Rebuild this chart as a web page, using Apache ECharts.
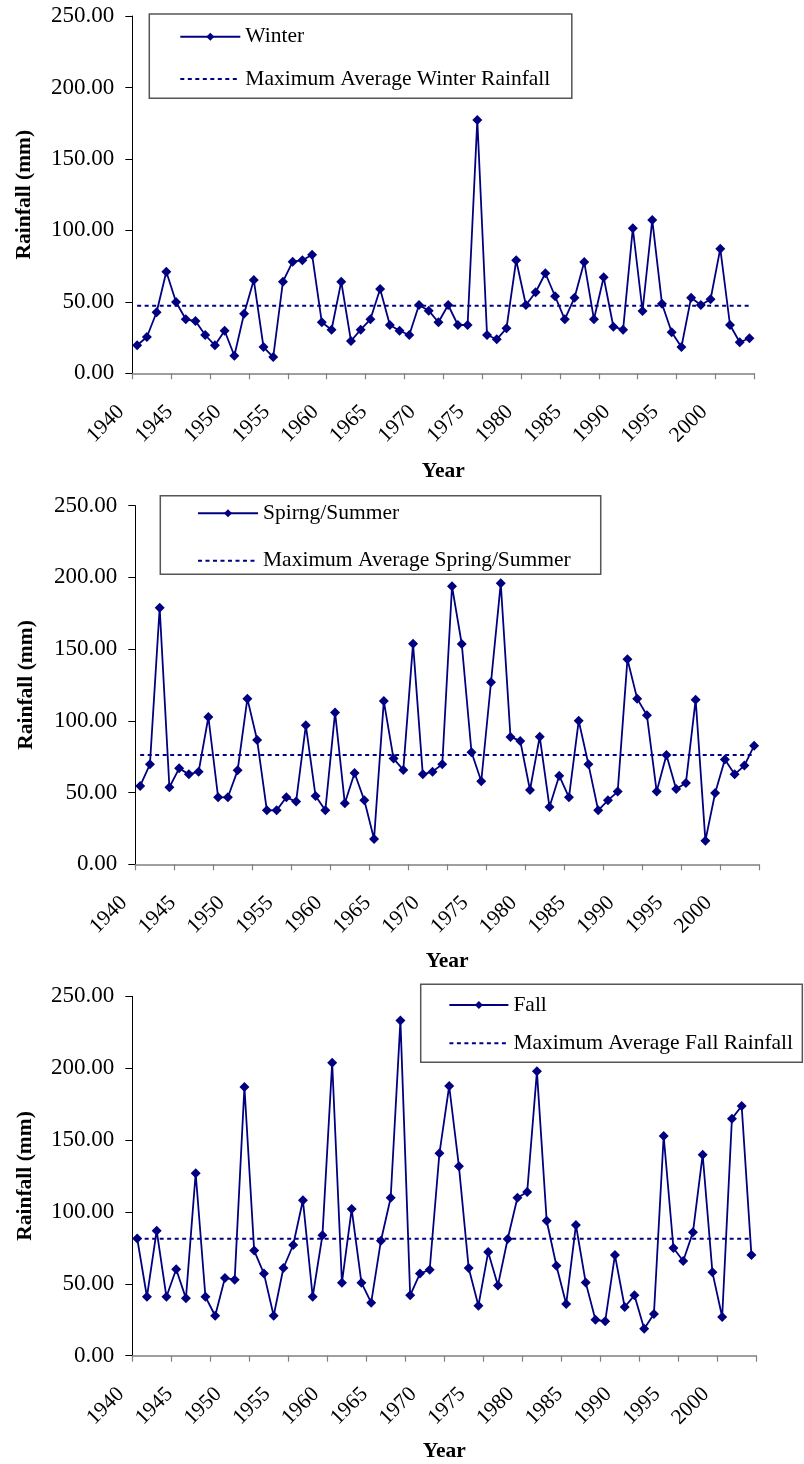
<!DOCTYPE html>
<html>
<head>
<meta charset="utf-8">
<title>Seasonal Rainfall 1940-2003</title>
<script src="https://cdn.jsdelivr.net/npm/echarts@6/dist/echarts.min.js"></script>
<style>
  html, body { margin: 0; padding: 0; background: #ffffff; }
  #chart { width: 804px; height: 1464px; }
</style>
</head>
<body>
<div id="chart"></div>
<script>
// Years on the category axis (one category per year)
const years = [];
for (let y = 1940; y <= 2003; y++) years.push(String(y));

// Seasonal rainfall totals (mm)
const winter = [19.6, 25.4, 42.7, 71.1, 49.9, 37.8, 36.6, 26.8, 19.6, 29.8, 12.3, 41.7, 65.3, 18.4, 11.4, 64.1,
  78.1, 79.1, 83.0, 35.7, 30.5, 64.1, 22.6, 30.5, 37.8, 59.0, 33.8, 29.8, 26.8, 47.8, 43.8, 35.7,
  47.8, 33.8, 33.8, 177.2, 26.8, 23.8, 31.5, 79.1, 47.8, 56.7, 70.0, 53.9, 37.8, 52.9, 77.9, 37.8,
  67.2, 32.6, 30.5, 101.5, 43.6, 107.3, 48.7, 28.7, 18.4, 52.9, 47.8, 51.8, 87.2, 33.8, 21.7, 24.5];

const springSummer = [54.6, 69.7, 178.9, 53.7, 66.9, 62.7, 64.6, 102.7, 46.7, 46.7, 65.5, 115.5, 86.7, 37.6, 37.6, 46.7,
  43.7, 96.9, 47.6, 37.6, 105.9, 42.5, 63.7, 44.6, 17.7, 113.8, 73.7, 65.8, 153.8, 62.7, 64.6, 69.7,
  193.8, 153.6, 78.1, 57.9, 126.9, 195.9, 88.8, 86.0, 51.8, 89.0, 40.0, 61.8, 46.7, 100.1, 69.7, 37.6,
  44.6, 50.7, 142.9, 115.5, 103.9, 50.7, 76.2, 52.5, 56.7, 114.8, 16.5, 49.7, 73.0, 62.7, 68.8, 82.7];

const fall = [81.6, 41.0, 87.0, 41.0, 60.1, 39.9, 126.9, 41.0, 27.8, 54.0, 52.9, 186.9, 73.1, 57.1, 27.8, 61.0,
  77.0, 108.1, 41.0, 83.7, 203.8, 50.8, 102.0, 50.8, 36.9, 80.0, 109.9, 233.1, 42.0, 57.1, 59.8, 140.8,
  187.6, 131.7, 61.0, 34.8, 72.1, 48.9, 81.2, 109.9, 113.9, 197.8, 93.9, 62.6, 35.9, 90.9, 51.0, 25.0,
  23.9, 70.0, 33.9, 42.0, 18.8, 29.0, 152.8, 74.9, 65.9, 85.8, 139.8, 58.0, 26.9, 164.9, 173.7, 70.0];

// Maximum average rainfall for each season (mm)
const maxAvgWinter = 47.3;
const maxAvgSpringSummer = 76.2;
const maxAvgFall = 81.4;

// Series and legend names
const seriesNames = ['Winter', 'Spirng/Summer', 'Fall'];
const avgNames = ['Maximum Average Winter Rainfall', 'Maximum Average Spring/Summer', 'Maximum Average Fall Rainfall'];

// Value axis
const yMin = 0, yMax = 250, yStep = 50;

const NAVY = '#000080';
const SERIF = '"Liberation Serif", "Times New Roman", serif';

// Panel geometry (pixels)
const panels = [
  { grid: { left: 132.3, top: 16, width: 622, height: 357.3 }, yGap: 97, xGap: 86.7,
    legend: { left: 149.3, top: 14, padding: [11.7, 21.5, 8.3, 30], itemGap: 20.3, itemWidth: 60 } },
  { grid: { left: 135.3, top: 505.7, width: 623.7, height: 358.6 }, yGap: 97.5, xGap: 86,
    legend: { left: 160.3, top: 495.7, padding: [6.6, 30, 2.6, 36.7], itemGap: 25.4, itemWidth: 60 } },
  { grid: { left: 132.3, top: 996.3, width: 624, height: 359.4 }, yGap: 96.3, xGap: 84.3,
    legend: { left: 420.7, top: 984.3, padding: [9.7, 9.3, 8, 27.7], itemGap: 16.3, itemWidth: 59 } }
];

const seasonData = [winter, springSummer, fall];
const avgValues = [maxAvgWinter, maxAvgSpringSummer, maxAvgFall];

const option = {
  animation: false,
  backgroundColor: '#ffffff',
  textStyle: { fontFamily: SERIF },
  grid: [],
  xAxis: [],
  yAxis: [],
  legend: [],
  series: []
};

panels.forEach((p, i) => {
  option.grid.push(Object.assign({ containLabel: false }, p.grid));

  option.xAxis.push({
    type: 'category',
    gridIndex: i,
    data: years,
    boundaryGap: true,
    name: 'Year',
    nameLocation: 'middle',
    nameGap: p.xGap,
    nameTextStyle: { fontFamily: SERIF, fontSize: 21.5, fontWeight: 'bold', color: '#000', verticalAlign: 'top' },
    axisLine: { lineStyle: { color: '#808080', width: 1.5 } },
    axisTick: { show: true, interval: 3, inside: false, length: 6, lineStyle: { color: '#808080', width: 1.2 } },
    axisLabel: {
      interval: 4, rotate: 45, margin: 19, padding: [0, 23, 0, 0],
      fontFamily: SERIF, fontSize: 21.5, color: '#000'
    },
    splitLine: { show: false }
  });

  option.yAxis.push({
    type: 'value',
    gridIndex: i,
    min: yMin, max: yMax, interval: yStep,
    name: 'Rainfall (mm)',
    nameLocation: 'middle',
    nameRotate: 90,
    nameGap: p.yGap,
    nameTextStyle: { fontFamily: SERIF, fontSize: 21.5, fontWeight: 'bold', color: '#000' },
    axisLine: { show: true, lineStyle: { color: '#000', width: 1 } },
    axisTick: { show: true, inside: false, length: 7, lineStyle: { color: '#000', width: 1 } },
    axisLabel: {
      margin: 18, fontFamily: SERIF, fontSize: 23, color: '#000',
      formatter: v => v.toFixed(2)
    },
    splitLine: { show: false }
  });

  option.legend.push(Object.assign({
    orient: 'vertical',
    data: [
      seriesNames[i],
      // reference line: plain dotted line in the key, no marker
      { name: avgNames[i], itemStyle: { opacity: 0 } }
    ],
    itemHeight: 10,
    borderColor: '#555',
    borderWidth: 1.5,
    backgroundColor: '#fff',
    selectedMode: false,
    textStyle: { fontFamily: SERIF, fontSize: 21.5, color: '#000', lineHeight: 22 }
  }, p.legend));

  option.series.push({
    name: seriesNames[i],
    type: 'line',
    xAxisIndex: i,
    yAxisIndex: i,
    data: seasonData[i],
    symbol: 'diamond',
    symbolSize: 10,
    showAllSymbol: true,
    itemStyle: { color: NAVY },
    lineStyle: { color: NAVY, width: 1.8 },
    z: 3
  });

  // Horizontal reference line spanning the first to last year
  option.series.push({
    name: avgNames[i],
    type: 'line',
    xAxisIndex: i,
    yAxisIndex: i,
    data: [[years[0], avgValues[i]], [years[years.length - 1], avgValues[i]]],
    symbol: 'none',
    itemStyle: { color: NAVY },
    lineStyle: { color: NAVY, width: 2, type: [4, 3.5] },
    z: 2
  });
});

const chart = echarts.init(document.getElementById('chart'), null, { renderer: 'canvas' });
chart.setOption(option);
</script>
</body>
</html>
